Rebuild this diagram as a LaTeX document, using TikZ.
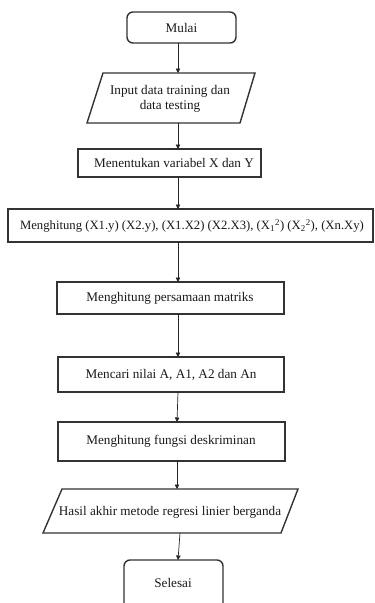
\documentclass[tikz,border=0pt]{standalone}
\usepackage{fontspec}
\setmainfont{Liberation Serif}
\usetikzlibrary{arrows.meta}
\begin{document}
\begin{tikzpicture}[x=1pt,y=-1pt,
  boxline/.style={draw=black!80,line width=1.4pt},
  txt/.style={font=\fontsize{13.2}{15.5}\selectfont,text=black!90,align=center,inner sep=0pt},
  widetxt/.style={txt,font=\fontsize{12.7}{15}\selectfont},
  conn/.style={draw=black!85,line width=0.7pt,-{Triangle[length=4.5pt,width=4.5pt]}}]
\useasboundingbox (0,0) rectangle (375,603);
% Mulai
\draw[boxline,rounded corners=6pt] (127,12) rectangle (236,43);
\node[txt] (mulai) at (181.5,27.5) {Mulai};
\coordinate (mulaiB) at (178,43);
% Input
\draw[boxline] (103,73) -- (255,73) -- (240,123) -- (87,123) -- cycle;
\node[txt] (input) at (170,99) {Input data training dan\\data testing};
\coordinate (inputT) at (178,73);
\coordinate (inputB) at (178,123);
% Menentukan
\draw[boxline] (78,149) rectangle (261,177);
\node[txt] (tentu) at (174,163) {Menentukan variabel X dan Y};
\coordinate (tentuT) at (178,149);
\coordinate (tentuB) at (178,177);
% Menghitung
\draw[boxline] (8,209) rectangle (373,242);
\node[widetxt] (hitung) at (192,226) {Menghitung (X1.y) (X2.y), (X1.X2) (X2.X3), (X\textsubscript{1}\textsuperscript{2}) (X\textsubscript{2}\textsuperscript{2}), (Xn.Xy)};
\coordinate (hitungT) at (178,209);
\coordinate (hitungB) at (178,242);
% Persamaan
\draw[boxline] (57,282) rectangle (284,314);
\node[txt] (persamaan) at (170,298) {Menghitung persamaan matriks};
\coordinate (persT) at (178,282);
\coordinate (persB) at (178,314);
% Mencari
\draw[boxline] (58,357) rectangle (284,392);
\node[txt] (cari) at (171,375) {Mencari nilai A, A1, A2 dan An};
\coordinate (cariT) at (178,357);
\coordinate (cariB) at (178,392);
% Fungsi
\draw[boxline] (58,422) rectangle (285,461);
\node[txt] (fungsi) at (171,441.5) {Menghitung fungsi deskriminan};
\coordinate (fungT) at (177,422);
\coordinate (fungB) at (177,461);
% Hasil
\draw[boxline] (62,489) -- (298,489) -- (281,533) -- (43,533) -- cycle;
\node[txt] (hasil) at (170,512) {Hasil akhir metode regresi linier berganda};
\coordinate (hasilT) at (177,489);
\coordinate (hasilB) at (180,533);
% Selesai
\draw[boxline,rounded corners=6pt] (124,560) rectangle (223,615);
\node[txt] (selesai) at (173,583) {Selesai};
\coordinate (selT) at (178,560);
% connectors
\draw[conn] (mulaiB) -- (inputT);
\draw[conn] (inputB) -- (tentuT);
\draw[conn] (tentuB) -- (hitungT);
\draw[conn] (hitungB) -- (persT);
\draw[conn] (persB) -- (cariT);
\draw[conn] (cariB) -- (fungT);
\draw[conn] (fungB) -- (hasilT);
\draw[conn] (hasilB) -- (selT);
\end{tikzpicture}
\end{document}
